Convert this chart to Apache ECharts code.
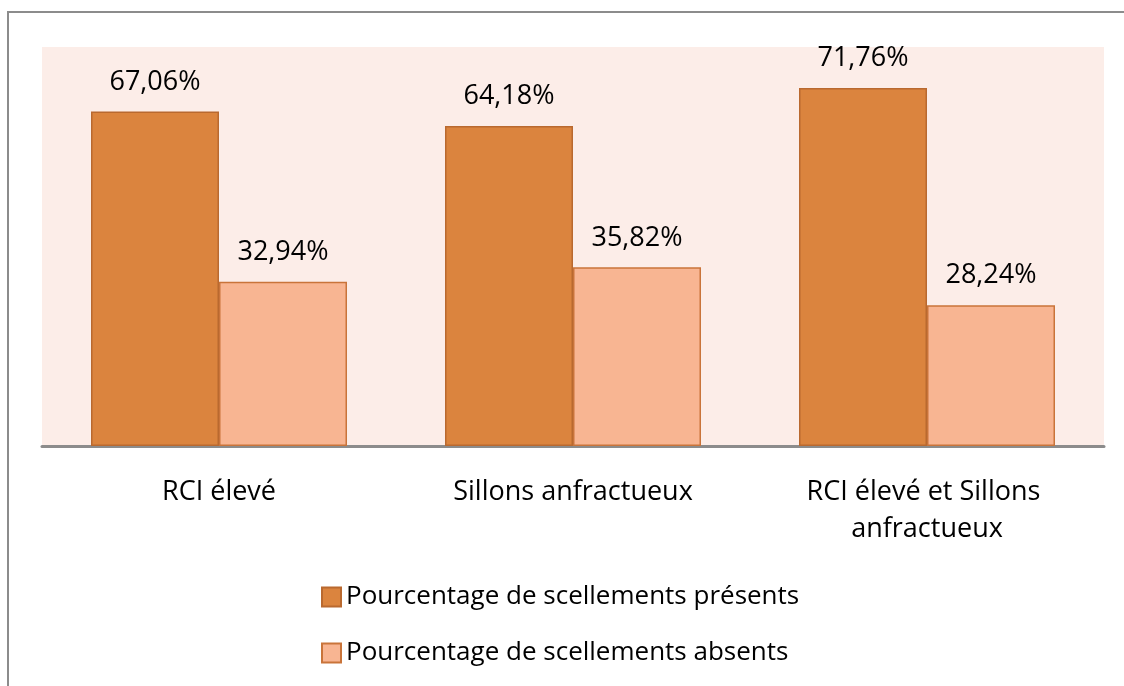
<!DOCTYPE html>
<html>
<head>
<meta charset="utf-8">
<script src="https://cdn.jsdelivr.net/npm/echarts@6/dist/echarts.min.js"></script>
<style>
  html, body { margin: 0; padding: 0; background: #ffffff; }
  #chart { width: 1124px; height: 686px; }
</style>
</head>
<body>
<div id="chart"></div>
<script>
// Categories and percentages of sealings present / absent
const categories = ['RCI élevé', 'Sillons anfractueux', 'RCI élevé et Sillons anfractueux'];
const presentValues = [67.06, 64.18, 71.76];
const absentValues = [32.94, 35.82, 28.24];
const seriesNames = ['Pourcentage de scellements présents', 'Pourcentage de scellements absents'];

const FONT = 'Open Sans';
const fmt = v => v.toFixed(2).replace('.', ',') + '%';

const chart = echarts.init(document.getElementById('chart'));

const barLabel = {
  show: true, position: 'top', distance: 16,
  formatter: p => fmt(p.value),
  fontFamily: FONT, fontSize: 27, color: '#000000'
};

chart.setOption({
  animation: false,
  backgroundColor: '#ffffff',
  textStyle: { fontFamily: FONT },
  graphic: [{
    type: 'rect',
    shape: { x: 8, y: 12, width: 1140, height: 700 },
    style: { fill: 'none', stroke: '#8c8c8c', lineWidth: 2 },
    silent: true,
    z: -10
  }],
  grid: {
    left: 42, right: 20, top: 47, bottom: 240,
    show: true, backgroundColor: '#FCEDE8', borderWidth: 0
  },
  legend: {
    orient: 'vertical',
    left: 316, top: 579,
    icon: 'rect',
    itemWidth: 19, itemHeight: 19,
    itemGap: 30,
    textStyle: { fontFamily: FONT, fontSize: 26, color: '#000000', padding: [0, 0, 0, 0] },
    data: seriesNames
  },
  xAxis: {
    type: 'category',
    data: categories,
    axisLine: { show: true, lineStyle: { color: '#8c8c8c', width: 3 } },
    axisTick: { show: false },
    axisLabel: {
      margin: 28,
      fontFamily: FONT, fontSize: 27, color: '#000000',
      lineHeight: 37, width: 300, overflow: 'break', interval: 0
    }
  },
  yAxis: {
    type: 'value', min: 0, max: 80,
    show: false,
    splitLine: { show: false }
  },
  series: [
    {
      name: seriesNames[0], type: 'bar', data: presentValues,
      barWidth: 128, barGap: '0%', barCategoryGap: '27%',
      itemStyle: { color: '#DB843E', borderColor: '#B9692F', borderWidth: 1.5 },
      label: barLabel
    },
    {
      name: seriesNames[1], type: 'bar', data: absentValues,
      barWidth: 128, barGap: '0%',
      itemStyle: { color: '#F8B592', borderColor: '#C9743A', borderWidth: 1.5 },
      label: barLabel
    }
  ]
});
</script>
</body>
</html>
